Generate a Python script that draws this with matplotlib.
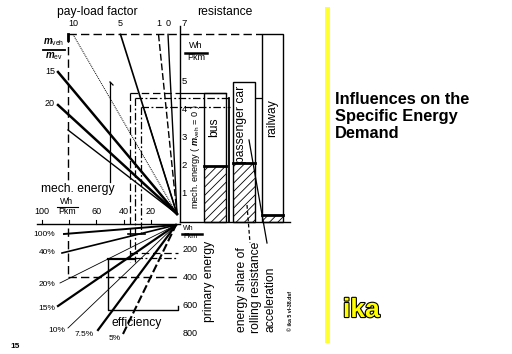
import matplotlib
matplotlib.use('Agg')
import matplotlib.pyplot as plt
import matplotlib.patheffects as pe
from matplotlib.patches import Rectangle

plt.rcParams['font.family'] = ['Liberation Sans', 'DejaVu Sans']
plt.rcParams['mathtext.fontset'] = 'custom'
plt.rcParams['mathtext.rm'] = 'Liberation Sans'
plt.rcParams['mathtext.it'] = 'Liberation Sans:italic'
plt.rcParams['mathtext.bf'] = 'Liberation Sans:italic:bold'
plt.rcParams['hatch.linewidth'] = 0.6

# ---------------- data ----------------
payload_ticks = [10, 5, 1, 0]
mass_ratio_ticks = [15, 20]
mech_energy_labels = [100, 60, 40, 20]
mech_energy_ticks = [100, 80, 60, 40, 20]
resistance_ticks = [1, 2, 3, 4, 5, 7]
primary_ticks = [200, 400, 600, 800]
efficiency_labels = ['100%', '40%', '20%', '15%', '10%', '7.5%', '5%']
modes = ['bus', 'passenger car', 'railway']
mode_total = [4.6, 5.0, 6.7]        # Wh/Pkm (resistance)
mode_rolling = [2.0, 2.1, 0.25]     # rolling-resistance share

# ---------------- nomogram scales (pixel layout) ----------------
def xm(v):   # mech. energy, horizontal axis
    return 178 - 1.36 * v

def yr(v):   # resistance, vertical axis
    return 222 - 28 * v

def yp(v):   # primary energy, lower axis
    return 221 + 0.14 * v

def xpl(v):  # pay-load factor, top
    return 168 - 9.5 * v

def ymr(v):  # mass ratio, left
    return 72 + (v - 15) * 6.6

C1 = (177, 214)   # upper fan focus
C2 = (176, 225)   # lower fan focus
eff_start = [(64, 234), (62, 253), (60, 283), (58, 306), (68, 328), (98, 330), (123, 334)]
eff_lab = [(44, 235), (47, 253), (47, 284), (47, 308), (57, 330), (84, 335), (115, 338)]
eff_style = [(1.4, '-'), (1.2, '-'), (0.6, '-'), (1.6, '-'), (0.6, '-'), (1.6, '-'), (1.5, (0, (4, 1.5)))]
mode_left = [204, 233, 262]
mode_width = [22, 22, 21]

fig = plt.figure(figsize=(5.12, 3.54), dpi=100)
ax = fig.add_axes([0, 0, 1, 1])
ax.set_xlim(0, 512)
ax.set_ylim(354, 0)
ax.axis('off')
K = 'black'
dash = (0, (6, 3))
dashdot = (0, (6, 2, 1.5, 2))

# frame dashed
ax.plot([68, mode_left[2]], [yr(6.7), yr(6.7)], color=K, lw=1, ls=dash)
ax.plot([68, 68], [yr(6.7), 180], color=K, lw=1, ls=dash)
ax.plot([68, 68], [228, yp(400)], color=K, lw=1, ls=dash)
ax.plot([68, 180], [yp(400), yp(400)], color=K, lw=1, ls=dash)
ax.plot([68, 68], [yr(6.7), yr(6.7) + 6], color=K, lw=2)

# resistance axis
ax.plot([180, 180], [yr(7), yr(0)], color=K, lw=1)
for v in resistance_ticks:
    ax.text(184, yr(v) - (3 if v == 7 else 0), str(v), fontsize=6.8, ha='center', va='center')
ax.plot([180, 290], [yr(0), yr(0)], color=K, lw=1)

# mech energy axis
ax.plot([xm(104), 180], [224, 224], color=K, lw=1)
for v in mech_energy_ticks:
    ax.plot([xm(v), xm(v)], [224, 220], color=K, lw=0.8)
for v in mech_energy_labels:
    ax.text(xm(v), 212, str(v), fontsize=6.5, ha='center', va='center')

# upper fan: payload
pl_style = {10: (0.7, (0, (1, 1))), 5: (1.2, '-'), 1: (1.0, (0, (5, 2))), 0: (1.0, '-')}
for v in payload_ticks:
    lw, ls = pl_style[v]
    ax.plot([xpl(v), C1[0]], [yr(6.7), C1[1]], color=K, lw=lw, ls=ls)
    ax.text(xpl(v), 23, str(v), fontsize=6.5, ha='center', va='center')
# upper fan: mass ratio
for v in mass_ratio_ticks:
    ax.plot([58, C1[0]], [ymr(v), C1[1]], color=K, lw=1.8)
    ax.text(50, ymr(v) - 1, str(v), fontsize=6.5, ha='center', va='center')
# extra fan lines
ax.plot([68, C1[0]], [130, C1[1]], color=K, lw=1.0)
ax.plot([145, C1[0]], [112, C1[1]], color=K, lw=0.8)
ax.plot([110, 110], [82, 182], color=K, lw=0.9)
ax.plot([110, 113], [82, 85], color=K, lw=0.9)

# mode linkage lines
ax.plot([130, 180], [yr(4.6), yr(4.6)], color=K, lw=0.9, ls=dash)
ax.plot([180, 226], [yr(4.6), yr(4.6)], color=K, lw=0.9)
ax.plot([135, 230], [yr(4.42), yr(4.42)], color=K, lw=0.9, ls=dashdot)
ax.plot([141, 230], [yr(4.1), yr(4.1)], color=K, lw=0.9, ls=dashdot)
ax.plot([130, 130], [yr(4.6), 262], color=K, lw=0.9, ls=dash)
ax.plot([135, 135], [yr(4.42), 262], color=K, lw=0.9, ls=dashdot)
ax.plot([141, 141], [yr(4.1), 235], color=K, lw=0.9, ls=dashdot)
ax.plot([130, 178], [253, 253], color=K, lw=0.9, ls=dash)
ax.plot([135, 178], [258, 258], color=K, lw=0.9, ls=dashdot)
ax.plot([128, 145], [234, 234], color=K, lw=1.2)

# lower rectangle
ax.plot([108, 108, 178, 178], [259, 310, 310, 306], color=K, lw=1)
ax.plot([108, 135], [259, 259], color=K, lw=1.6)

# efficiency fan
for (sx, sy), (lx, ly), (lw, ls), lab in zip(eff_start, eff_lab, eff_style, efficiency_labels):
    ax.plot([sx, C2[0]], [sy, C2[1]], color=K, lw=lw, ls=ls)
    ax.text(lx, ly, lab, fontsize=6, ha='center', va='center')

# primary energy ticks
for v in primary_ticks:
    ax.text(190, yp(v), str(v), fontsize=6.5, ha='center', va='center')

# mode boxes
for x0, w, tot, rol in zip(mode_left, mode_width, mode_total, mode_rolling):
    ax.bar(x0, yr(tot) - yr(0), bottom=yr(0), width=w, align='edge',
           fill=False, edgecolor=K, lw=1)
    ax.bar(x0, yr(rol) - yr(0), bottom=yr(0), width=w, align='edge',
           fill=False, edgecolor=K, lw=0.6, hatch='////')
    ax.plot([x0, x0 + w], [yr(rol), yr(rol)], color=K, lw=2)
ax.plot([229, 229], [yr(4.42), yr(0)], color=K, lw=1.3)
ax.plot([255, 262], [yr(4.42), yr(4.42)], color=K, lw=0.9, ls=dash)

# pointers
ax.plot([249, 267], [140, 243], color=K, lw=0.9)
ax.plot([247, 250], [205, 243], color=K, lw=0.9, ls=(0, (3, 2)))

# texts
ax.text(97, 12, 'pay-load factor', fontsize=8.7, ha='center', va='center')
ax.text(225, 12, 'resistance', fontsize=8.7, ha='center', va='center')
ax.text(78, 189, 'mech. energy', fontsize=8.7, ha='center', va='center')
ax.text(137, 323, 'efficiency', fontsize=8.7, ha='center', va='center')

ax.text(54, 42, r'$\mathbf{m}_{\rm veh}$', fontsize=7, ha='center', va='center')
ax.plot([43, 65], [50, 50], color=K, lw=1.3)
ax.text(54, 56, r'$\mathbf{m}_{\rm ev}$', fontsize=7, ha='center', va='center')

ax.text(67, 201, 'Wh', fontsize=6.3, ha='center', va='center')
ax.plot([57, 78], [207, 207], color=K, lw=0.8)
ax.text(67, 212, 'Pkm', fontsize=6.3, ha='center', va='center')
ax.text(196, 45, 'Wh', fontsize=6.5, ha='center', va='center')
ax.plot([185, 207], [53, 53], color=K, lw=1.8)
ax.text(196, 57, 'Pkm', fontsize=6.5, ha='center', va='center')
ax.text(188, 228, 'Wh', fontsize=5, ha='center', va='center')
ax.plot([182, 202], [234, 234], color=K, lw=1.8)
ax.text(190, 236, 'Pkm', fontsize=5, ha='center', va='center')

ax.text(195, 157, r'mech. energy ( $\mathbf{m}_{\rm veh}$ = 0 )', fontsize=6.6,
        rotation=90, ha='center', va='center')
for name, xc, yc in zip(modes, [214, 241, 272], [127, 124, 118]):
    ax.text(xc, yc, name, fontsize=8.7, rotation=90, ha='center', va='center')

ax.text(209, 322, 'primary energy', fontsize=8.7, rotation=90,
        rotation_mode='anchor', ha='left', va='center')
ax.text(242, 332, 'energy share of', fontsize=8.7, rotation=90,
        rotation_mode='anchor', ha='left', va='center')
ax.text(256, 333, 'rolling resistance', fontsize=8.7, rotation=90,
        rotation_mode='anchor', ha='left', va='center')
ax.text(271, 332, 'acceleration', fontsize=8.7, rotation=90,
        rotation_mode='anchor', ha='left', va='center')
ax.text(290, 331, '\u00a9 ika 5 vl-38.dsf', fontsize=3.8, fontweight='bold', rotation=90,
        rotation_mode='anchor', ha='left', va='center')
ax.text(15, 346, '15', fontsize=6, fontweight='bold', ha='center', va='center')

# right panel
ax.add_patch(Rectangle((325, 7), 4.5, 336, color='#FFFF33', lw=0))
ax.text(335, 92, 'Influences on the\nSpecific Energy\nDemand', fontsize=11.8,
        fontweight='bold', ha='left', va='top', linespacing=1.15)
ax.text(343, 317, 'ika', fontsize=19, fontweight='bold', color='#FFFF00',
        ha='left', va='baseline',
        path_effects=[pe.Stroke(linewidth=1.6, foreground='black'), pe.Normal()])

fig.savefig('out.png', dpi=100)
